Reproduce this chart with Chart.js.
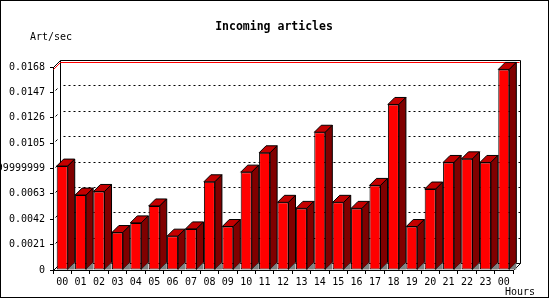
<!DOCTYPE html>
<html>
<head>
<meta charset="utf-8">
<script src="https://cdn.jsdelivr.net/npm/chart.js@4.4.1/dist/chart.umd.min.js"></script>
<style>
  html, body { margin: 0; padding: 0; background: #ffffff; }
  canvas { display: block; }
</style>
</head>
<body>
<canvas id="articlesChart" width="550" height="300"></canvas>
<script>
// data
const hours = ['00', '01', '02', '03', '04', '05', '06', '07', '08', '09', '10', '11',
               '12', '13', '14', '15', '16', '17', '18', '19', '20', '21', '22', '23', '00'];
const articlesPerSec = [0.0086, 0.0062, 0.0065, 0.0031, 0.0039, 0.0053, 0.0028, 0.0034, 0.0073,
                        0.0036, 0.0081, 0.0097, 0.0056, 0.0051, 0.0114, 0.0056, 0.0051, 0.0070,
                        0.0137, 0.0036, 0.0067, 0.0089, 0.0092, 0.0089, 0.0166];
const yTickLabels = ['0', '0.0021', '0.0042', '0.0063', '0.0083999999999999',
                     '0.0105', '0.0126', '0.0147', '0.0168'];

const chartTitle = 'Incoming articles';
const yAxisTitle = 'Art/sec';
const xAxisTitle = 'Hours';

const DEPTH = 7;  // 3d offset in px
const FONT = '"DejaVu Sans Mono", monospace';

const threeDee = {
  id: 'threeDee',
  beforeDraw(chart) {
    const ctx = chart.ctx;
    ctx.save();
    ctx.fillStyle = '#ffffff';
    ctx.fillRect(0, 0, chart.width, chart.height);
    ctx.strokeStyle = '#000000';
    ctx.lineWidth = 1;
    ctx.strokeRect(0.5, 0.5, 548, 297);
    ctx.restore();
  },
  beforeDatasetsDraw(chart) {
    const ctx = chart.ctx;
    const a = chart.chartArea;
    const y = chart.scales.y;
    const L = Math.round(a.left) + 0.5, R = Math.round(a.right) + 0.5;
    const T = Math.round(a.top) + 0.5, B = Math.round(a.bottom) + 0.5;
    ctx.save();
    ctx.lineWidth = 1;
    ctx.strokeStyle = '#000000';

    // dotted grid on the back wall
    ctx.setLineDash([2, 3]);
    y.ticks.forEach((t, i) => {
      if (i === 0 || i === y.ticks.length - 1) return;
      const py = Math.round(y.getPixelForValue(t.value)) - DEPTH + 0.5;
      ctx.beginPath();
      ctx.moveTo(L + DEPTH + 3, py);
      ctx.lineTo(R + DEPTH, py);
      ctx.stroke();
    });
    ctx.setLineDash([]);

    // small marks on the side wall
    y.ticks.forEach((t, i) => {
      if (i === 0 || i === y.ticks.length - 1) return;
      const py = Math.round(y.getPixelForValue(t.value)) + 0.5;
      ctx.beginPath();
      ctx.moveTo(L + 2, py - 2);
      ctx.lineTo(L + 4, py - 4);
      ctx.stroke();
    });

    // back wall frame
    ctx.beginPath();
    ctx.moveTo(L, T);
    ctx.lineTo(L + DEPTH, T - DEPTH);
    ctx.lineTo(R + DEPTH, T - DEPTH);
    ctx.lineTo(R + DEPTH, B - DEPTH);
    ctx.lineTo(L + DEPTH, B - DEPTH);
    ctx.lineTo(L + DEPTH, T - DEPTH);
    ctx.moveTo(R, B);
    ctx.lineTo(R + DEPTH, B - DEPTH);
    ctx.moveTo(L, B);
    ctx.lineTo(L + DEPTH, B - DEPTH);
    ctx.stroke();

    // red max line
    const maxY = Math.round(y.getPixelForValue(Math.max(...articlesPerSec))) + 0.5;
    ctx.strokeStyle = '#ff0000';
    ctx.beginPath();
    ctx.moveTo(L, maxY);
    ctx.lineTo(L + DEPTH, maxY - DEPTH);
    ctx.lineTo(R + DEPTH - 1, maxY - DEPTH);
    ctx.stroke();
    ctx.restore();
  },
  afterDatasetsDraw(chart) {
    const ctx = chart.ctx;
    const bars = chart.getDatasetMeta(0).data;
    ctx.save();
    ctx.lineWidth = 1;
    ctx.strokeStyle = '#000000';
    ctx.lineJoin = 'miter';
    bars.forEach(bar => {
      const p = bar.getProps(['x', 'y', 'base', 'width'], true);
      const left = p.x - p.width / 2, right = p.x + p.width / 2;
      const top = p.y, base = p.base;
      // top face
      ctx.fillStyle = '#c40000';
      ctx.beginPath();
      ctx.moveTo(left, top);
      ctx.lineTo(left + DEPTH, top - DEPTH);
      ctx.lineTo(right + DEPTH, top - DEPTH);
      ctx.lineTo(right, top);
      ctx.closePath();
      ctx.fill();
      ctx.stroke();
      // side face
      ctx.fillStyle = '#800000';
      ctx.beginPath();
      ctx.moveTo(right, top);
      ctx.lineTo(right + DEPTH, top - DEPTH);
      ctx.lineTo(right + DEPTH, base - DEPTH);
      ctx.lineTo(right, base);
      ctx.closePath();
      ctx.fill();
      ctx.stroke();
      // floor shadow
      ctx.fillStyle = '#808080';
      ctx.beginPath();
      ctx.moveTo(right, base);
      ctx.lineTo(right + DEPTH, base - DEPTH);
      ctx.lineTo(right + DEPTH, base);
      ctx.closePath();
      ctx.fill();
    });
    ctx.restore();
  },
  afterDraw(chart) {
    const ctx = chart.ctx;
    ctx.save();
    ctx.fillStyle = '#000000';
    ctx.textBaseline = 'middle';
    ctx.font = 'bold 11.5px ' + FONT;
    ctx.textAlign = 'center';
    ctx.fillText(chartTitle, 274, 27);
    ctx.font = '10px ' + FONT;
    ctx.textAlign = 'left';
    ctx.fillText(yAxisTitle, 30, 37);
    ctx.fillText(xAxisTitle, 505, 292);
    ctx.restore();
  }
};

new Chart(document.getElementById('articlesChart').getContext('2d'), {
  type: 'bar',
  data: {
    labels: hours,
    datasets: [{
      label: 'Art/sec',
      data: articlesPerSec,
      backgroundColor: '#ff0000',
      borderColor: '#000000',
      borderWidth: 1,
      borderSkipped: false,
      categoryPercentage: 1.0,
      barPercentage: 0.6
    }]
  },
  options: {
    responsive: false,
    animation: false,
    devicePixelRatio: 1,
    layout: { padding: { top: 67, right: 37, left: 0, bottom: 0 } },
    plugins: {
      legend: { display: false },
      tooltip: { enabled: false },
      title: { display: false }
    },
    scales: {
      x: {
        offset: true,
        afterFit: (scale) => { scale.height = 30; },
        grid: { display: true, drawOnChartArea: false, tickLength: 4, color: '#000000', offset: true },
        border: { display: true, color: '#000000' },
        ticks: {
          color: '#000000',
          font: { family: FONT, size: 10 },
          padding: 2,
          maxRotation: 0,
          autoSkip: false
        }
      },
      y: {
        min: 0,
        max: 0.0168,
        afterFit: (scale) => { scale.width = 53; },
        grid: { display: true, drawOnChartArea: false, tickLength: 3, color: '#000000' },
        border: { display: true, color: '#000000' },
        ticks: {
          stepSize: 0.0021,
          color: '#000000',
          font: { family: FONT, size: 10 },
          padding: 5,
          callback: (value, index) => yTickLabels[index]
        }
      }
    }
  },
  plugins: [threeDee]
});
</script>
</body>
</html>
